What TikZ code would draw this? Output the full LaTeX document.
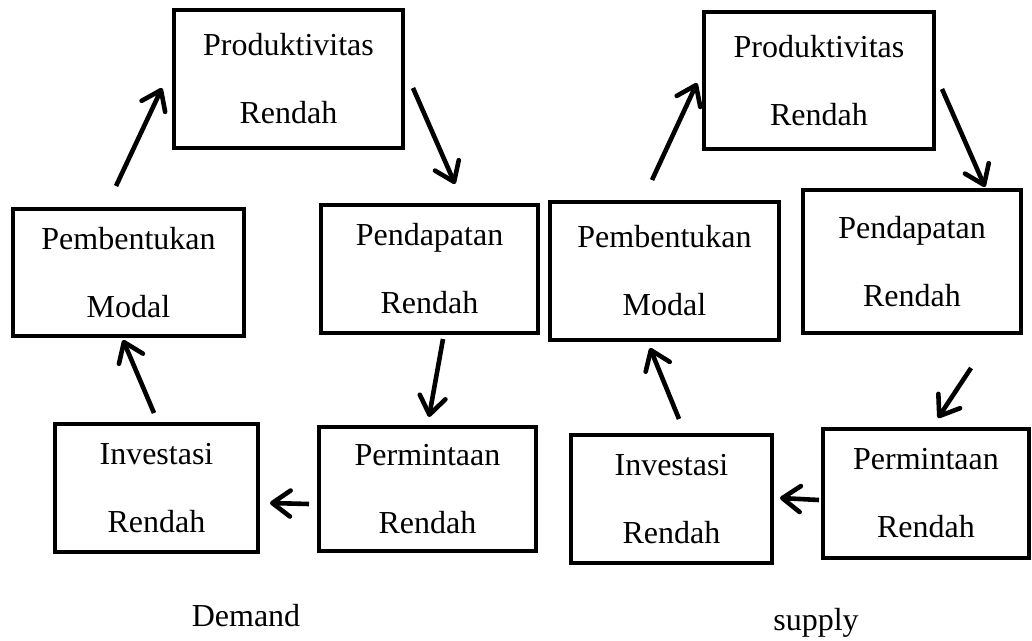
\documentclass[tikz,border=0pt]{standalone}
\usepackage{fontspec}
\setmainfont{Liberation Serif}
\usetikzlibrary{arrows.meta}

\begin{document}
\begin{tikzpicture}[x=0.5pt,y=0.5pt,yscale=-1,xscale=1,
  kotak/.style={draw, line width=2.2pt, align=center, inner sep=0pt, font=\fontsize{16}{34}\selectfont},
  panah/.style={line width=2.3pt, -{Straight Barb[length=9pt,width=13pt,round]}},
  label/.style={anchor=base, inner sep=0pt, font=\fontsize{16}{19}\selectfont}]
\useasboundingbox (0,0) rectangle (1032,641);

%Demand (kiri)
\node [kotak, minimum width=114.5pt, minimum height=69pt] (prodL) at (288.5,79) {Produktivitas\\Rendah};
\node [kotak, minimum width=115.5pt, minimum height=63.5pt] (pembL) at (128.5,272.5) {Pembentukan\\Modal};
\node [kotak, minimum width=108.5pt, minimum height=64pt] (pendL) at (429.5,269) {Pendapatan\\Rendah};
\node [kotak, minimum width=101.5pt, minimum height=64pt] (invL) at (156.5,488) {Investasi\\Rendah};
\node [kotak, minimum width=108.5pt, minimum height=62pt] (permL) at (427.5,489) {Permintaan\\Rendah};

%Supply (kanan)
\node [kotak, minimum width=115pt, minimum height=68.5pt] (prodR) at (819,80.5) {Produktivitas\\Rendah};
\node [kotak, minimum width=114.5pt, minimum height=69pt] (pembR) at (664.5,271) {Pembentukan\\Modal};
\node [kotak, minimum width=109pt, minimum height=71.5pt] (pendR) at (912,261.5) {Pendapatan\\Rendah};
\node [kotak, minimum width=100.5pt, minimum height=64pt] (invR) at (671.5,499) {Investasi\\Rendah};
\node [kotak, minimum width=103pt, minimum height=64.5pt] (permR) at (926,493.5) {Permintaan\\Rendah};

%Straight Lines
\coordinate (l1a) at (116,186); \coordinate (l1b) at (162,88);
\coordinate (l2a) at (413,88);  \coordinate (l2b) at (455,184);
\coordinate (l3a) at (443,339); \coordinate (l3b) at (429,417);
\coordinate (l4a) at (309,504); \coordinate (l4b) at (270,503);
\coordinate (l5a) at (154,413); \coordinate (l5b) at (123,340);
\draw [panah] (l1a) -- (l1b);
\draw [panah] (l2a) -- (l2b);
\draw [panah] (l3a) -- (l3b);
\draw [panah] (l4a) -- (l4b);
\draw [panah] (l5a) -- (l5b);

%Straight Lines
\coordinate (r1a) at (652,180); \coordinate (r1b) at (697,83);
\coordinate (r2a) at (942,89);  \coordinate (r2b) at (985,187);
\coordinate (r3a) at (971,368); \coordinate (r3b) at (938,418);
\coordinate (r4a) at (819,500); \coordinate (r4b) at (780,498);
\coordinate (r5a) at (679,419); \coordinate (r5b) at (650,348);
\draw [panah] (r1a) -- (r1b);
\draw [panah] (r2a) -- (r2b);
\draw [panah] (r3a) -- (r3b);
\draw [panah] (r4a) -- (r4b);
\draw [panah] (r5a) -- (r5b);

% Text Node
\node [label] (demand) at (246,626) {Demand};
% Text Node
\node [label] (supply) at (816,630) {supply};

\end{tikzpicture}
\end{document}
